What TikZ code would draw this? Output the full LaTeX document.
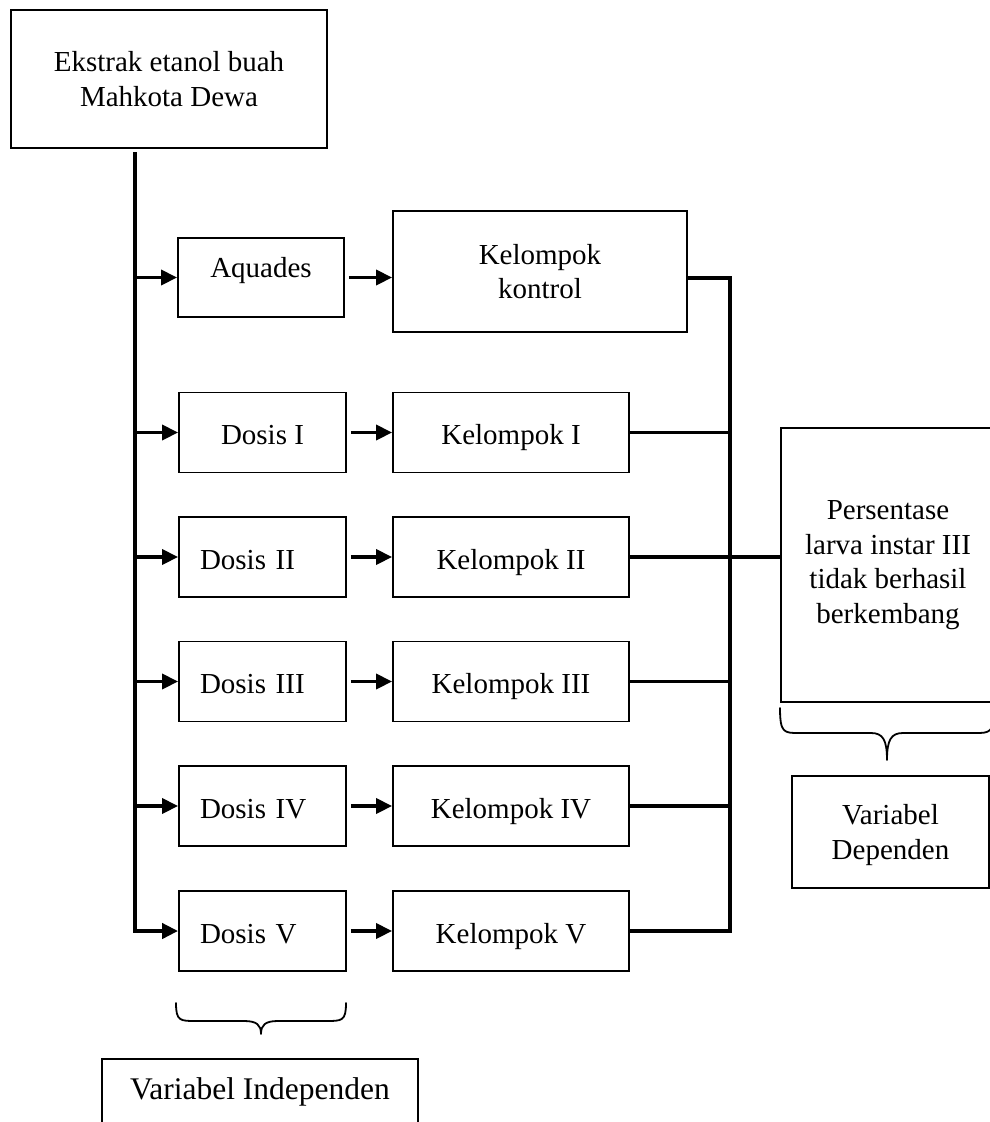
\documentclass[tikz,border=0pt]{standalone}
\usepackage{fontspec}
\setmainfont{Liberation Serif}
\usetikzlibrary{arrows.meta,calc}
\begin{document}
\begin{tikzpicture}[x=1pt,y=-1pt,
  box/.style={draw,line width=1.8pt,inner sep=0pt,align=center,font=\fontsize{29}{34.5}\selectfont},
  oneline/.style={text height=24pt,text depth=0pt},
  dosisbox/.style={box,oneline,minimum width=167pt,minimum height=80pt},
  dleft/.style={box,oneline,text width=125pt,align=left,inner xsep=21pt,minimum height=80pt},
  kelbox/.style={box,oneline,minimum width=236pt,minimum height=80pt},
  conn/.style={line width=3.5pt},
  arr/.style={line width=3.5pt,-{Triangle[length=16pt,width=15pt]}},
  bracestyle/.style={line width=1.8pt,line join=round,line cap=round}]
\useasboundingbox (0,0) rectangle (990,1122);
\clip (0,0) rectangle (990,1122);

% nodes
\node[box,minimum width=316pt,minimum height=138pt] (top) at (169,79) {Ekstrak etanol buah\\Mahkota Dewa};
\node[box,minimum width=166pt,minimum height=79pt,text height=0pt,text depth=0pt] (aq) at (261,277.5) {Aquades};
\node[box,minimum width=294pt,minimum height=121pt] (kk) at (540,271.5) {Kelompok\\kontrol};

\node[dosisbox] (d1) at (262.5,432.5) {Dosis I};
\node[kelbox] (k1) at (511,432.5) {Kelompok I};
\node[dleft] (d2) at (262.5,557) {Dosis II};
\node[kelbox] (k2) at (511,557) {Kelompok II};
\node[dleft] (d3) at (262.5,681.5) {Dosis III};
\node[kelbox] (k3) at (511,681.5) {Kelompok III};
\node[dleft] (d4) at (262.5,806) {Dosis IV};
\node[kelbox] (k4) at (511,806) {Kelompok IV};
\node[dleft] (d5) at (262.5,931) {Dosis V};
\node[kelbox] (k5) at (511,931) {Kelompok V};

\node[box,minimum width=214pt,minimum height=274pt] (pers) at (888,565) {Persentase\\larva instar III\\tidak berhasil\\berkembang};
\node[box,minimum width=197pt,minimum height=112pt,text depth=0pt] (dep) at (890.5,832) {Variabel\\Dependen};
\node[box,minimum width=316pt,minimum height=66pt,font=\fontsize{31.5}{36}\selectfont] (vi) at (260,1092) {Variabel Independen};

% helper coordinates
\coordinate (T0) at (135,152);
\coordinate (R) at (730,0);

% left trunk and arrows
\draw[arr,line width=4pt] (T0) |- (d5.west);
\foreach \n in {aq,d1,d2,d3,d4} \draw[arr] (T0 |- \n.west) -- (\n.west);

% middle arrows
\draw[arr,shorten <=4pt] (aq.east) -- (aq.east -| kk.west);
\foreach \i in {1,...,5} \draw[arr,shorten <=4pt] (d\i.east) -- (k\i.west);

% right collector
\draw[conn,line width=4pt] (aq.east -| kk.east) -| (R |- k5.east) -- (k5.east);
\foreach \i in {1,...,4} \draw[conn] (k\i.east) -- (k\i.east -| R);
\draw[conn] (k2.east -| R) -- (k2.east -| pers.west);

% brace under the Dosis boxes
\draw[bracestyle] (176,1003) .. controls (176,1021) and (180,1021) .. (196,1021)
  -- (244,1021) .. controls (257,1021) and (261,1025) .. (261,1034)
  .. controls (261,1025) and (265,1021) .. (278,1021)
  -- (326,1021) .. controls (342,1021) and (346,1021) .. (346,1003);

% brace under the Persentase box
\draw[bracestyle] (780,708) .. controls (780,733) and (784,733) .. (799,733)
  -- (871,733) .. controls (883,733) and (887,740) .. (887,760)
  .. controls (887,740) and (891,733) .. (903,733)
  -- (975,733) .. controls (990,733) and (994,733) .. (994,708);
\end{tikzpicture}
\end{document}
